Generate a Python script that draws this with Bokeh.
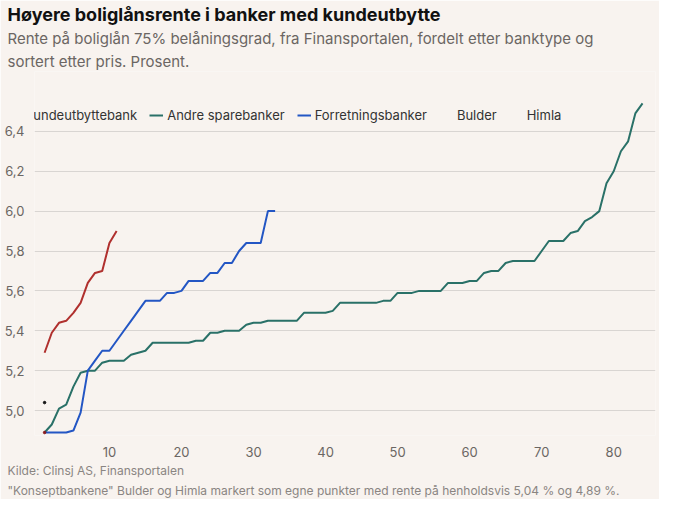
from bokeh.plotting import figure
from bokeh.models import Title, Legend, LegendItem, FixedTicker, CustomJSTickFormatter
from bokeh.embed import file_html
from bokeh.resources import INLINE

kunde = [5.29,5.39,5.44,5.45,5.49,5.54,5.64,5.69,5.70,5.84,5.90]
forretning = [4.89,4.89,4.89,4.89,4.90,4.99,5.20,5.25,5.30,5.30,5.35,5.40,5.45,5.50,5.55,5.55,5.55,
              5.59,5.59,5.60,5.65,5.65,5.65,5.69,5.69,5.74,5.74,5.80,5.84,5.84,5.84,6.00,6.00]
andre = [4.89,4.93,5.01,5.03,5.12,5.19,5.20,5.20,5.24,5.25,5.25,5.25,5.28,5.29,5.30,5.34,5.34,5.34,
         5.34,5.34,5.34,5.35,5.35,5.39,5.39,5.40,5.40,5.40,5.43,5.44,5.44,5.45,5.45,5.45,5.45,5.45,
         5.49,5.49,5.49,5.49,5.50,5.54,5.54,5.54,5.54,5.54,5.54,5.55,5.55,5.59,5.59,5.59,5.60,5.60,
         5.60,5.60,5.64,5.64,5.64,5.65,5.65,5.69,5.70,5.70,5.74,5.75,5.75,5.75,5.75,5.80,5.85,5.85,
         5.85,5.89,5.90,5.95,5.97,6.00,6.14,6.20,6.30,6.35,6.49,6.54]
bulder = [5.04]
himla = [4.89]
y_ticks = [5.0,5.2,5.4,5.6,5.8,6.0,6.2,6.4]
x_ticks = [10,20,30,40,50,60,70,80]

BG = "#f8f3ef"
p = figure(width=659, height=499, x_range=(-0.4, 85.8), y_range=(4.875, 6.70),
           output_backend="svg", toolbar_location=None,
           background_fill_color=BG, border_fill_color=BG,
           min_border_left=34, min_border_right=4, min_border_bottom=4, min_border_top=4)
p.outline_line_color = None
p.xgrid.grid_line_color = None
p.ygrid.grid_line_color = "#d9d5d2"
p.ygrid.grid_line_width = 1
p.yaxis.ticker = FixedTicker(ticks=y_ticks)
p.xaxis.ticker = FixedTicker(ticks=x_ticks)
p.yaxis.formatter = CustomJSTickFormatter(code="return tick.toFixed(1).replace('.', ',');")
for ax in (p.xaxis[0], p.yaxis[0]):
    ax.axis_line_color = None
    ax.major_tick_line_color = None
    ax.minor_tick_line_color = None
    ax.major_label_text_font = "Inter"
    ax.major_label_text_font_size = "13px"
    ax.major_label_text_color = "#6b6663"
p.yaxis.major_label_standoff = 4

def xs(v):
    return list(range(1, len(v) + 1))

r1 = p.line(xs(kunde), kunde, color="#b0302e", line_width=2)
r2 = p.line(xs(andre), andre, color="#2a7168", line_width=2)
r3 = p.line(xs(forretning), forretning, color="#2356c4", line_width=2)
r4 = p.scatter(xs(bulder), bulder, color="#111111", size=2.5)
r5 = p.scatter(xs(himla), himla, color="#8c1c1c", size=2.5)
d4 = p.line([], [], color="#111111", line_width=2)
d5 = p.line([], [], color="#8c1c1c", line_width=2)

leg = Legend(items=[LegendItem(label="Kundeutbyttebank", renderers=[r1]),
                    LegendItem(label="Andre sparebanker", renderers=[r2]),
                    LegendItem(label="Forretningsbanker", renderers=[r3]),
                    LegendItem(label="Bulder", renderers=[d4]),
                    LegendItem(label="Himla", renderers=[d5])],
             orientation="horizontal", location=(-27, 312),
             background_fill_alpha=0, border_line_color=None,
             label_text_font="Inter", label_text_font_size="13px", label_text_color="#333333",
             glyph_width=14, glyph_height=10, spacing=12, label_standoff=4, margin=0, padding=0)
p.add_layout(leg, "center")

def above(t, size, color, bold=False):
    p.add_layout(Title(text=t, text_font="Inter", text_font_size=size, text_color=color,
                       text_font_style="bold" if bold else "normal", offset=-27,
                       standoff=2), "above")

above("sortert etter pris. Prosent.", "15px", "#6b6663")
above("Rente på boliglån 75% belåningsgrad, fra Finansportalen, fordelt etter banktype og", "15px", "#6b6663")
above("Høyere boliglånsrente i banker med kundeutbytte", "18px", "#111111", bold=True)

for t in ["Kilde: Clinsj AS, Finansportalen",
          "\"Konseptbankene\" Bulder og Himla markert som egne punkter med rente på henholdsvis 5,04 % og 4,89 %."]:
    p.add_layout(Title(text=t, text_font="Inter", text_font_size="12px", text_color="#8a8582",
                       text_font_style="normal", offset=-27, standoff=3), "below")

open("out.html", "w").write(file_html(p, INLINE))
